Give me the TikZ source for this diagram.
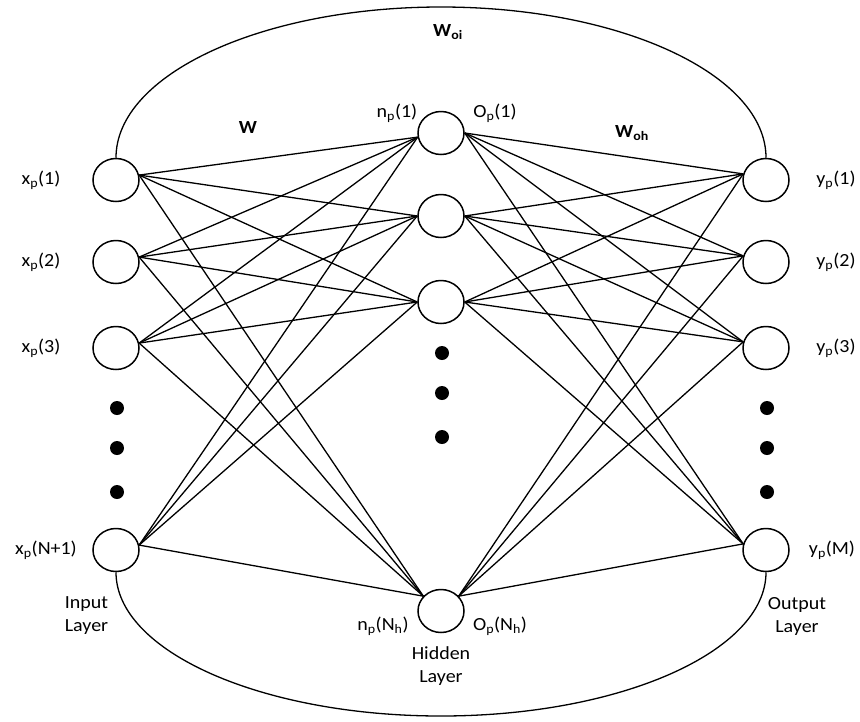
\documentclass[tikz,border=0pt]{standalone}
\usepackage{fontspec}
\setmainfont{Carlito}[FakeStretch=1.08]
\usetikzlibrary{shapes.geometric}
\begin{document}
\begin{tikzpicture}[x=1pt,y=-1pt,
  neuron/.style={ellipse, draw, line width=1.5pt, minimum width=46pt, minimum height=43pt, inner sep=0pt},
  dotn/.style={circle, fill, minimum size=14pt, inner sep=0pt},
  wire/.style={line width=1.3pt},
  lbl/.style={font=\fontsize{18.5}{23}\selectfont, inner sep=0pt, align=center},
  wlbl/.style={font=\fontsize{18.5}{23}\selectfont\bfseries, inner sep=0pt}]
\useasboundingbox[fill=white] (0,0) rectangle (860,721);
% input layer
\node[neuron] (I1) at (116,180) {};
\node[neuron] (I2) at (116,262) {};
\node[neuron] (I3) at (116,348) {};
\node[neuron] (IN) at (116,550) {};
% hidden layer
\node[neuron] (H1) at (441,133) {};
\node[neuron] (H2) at (441,216) {};
\node[neuron] (H3) at (441,302) {};
\node[neuron] (HN) at (441,611) {};
% output layer
\node[neuron] (O1) at (766,180) {};
\node[neuron] (O2) at (766,262) {};
\node[neuron] (O3) at (766,348) {};
\node[neuron] (OM) at (766,550) {};
% dots
\node[dotn] (dl1) at (117,408) {};
\node[dotn] (dl2) at (117,448) {};
\node[dotn] (dl3) at (117,492) {};
\node[dotn] (dh1) at (442,353) {};
\node[dotn] (dh2) at (442,393) {};
\node[dotn] (dh3) at (442,437) {};
\node[dotn] (dr1) at (767,408) {};
\node[dotn] (dr2) at (767,448) {};
\node[dotn] (dr3) at (767,492) {};
% anchor points
\coordinate (h1l) at (H1.190);
\coordinate (h2l) at (H2.west);
\coordinate (h3l) at (H3.west);
\coordinate (hnl) at (HN.140);
\coordinate (h1r) at (H1.east);
\coordinate (h2r) at (H2.east);
\coordinate (h3r) at (H3.east);
\coordinate (hnr) at (HN.40);
% input -> hidden
\foreach \i in {I1,I2,I3,IN}{
  \foreach \h in {h1l,h2l,h3l,hnl}{
    \draw[wire] (\i.12) -- (\h);
  }
}
% hidden -> output
\foreach \o in {O1,O2,O3,OM}{
  \foreach \h in {h1r,h2r,h3r,hnr}{
    \draw[wire] (\h) -- (\o.165);
  }
}
% arcs
\coordinate (topc) at (441,7);
\coordinate (botc) at (441,716);
\draw[wire] (I1.north) .. controls (116,74.6) and (261.5,7) .. (topc)
  .. controls (620.5,7) and (766,74.6) .. (O1.north);
\draw[wire] (IN.south) .. controls (116,651.3) and (261.5,716) .. (botc)
  .. controls (620.5,716) and (766,651.3) .. (OM.south);
% labels
\node[lbl] (lx1) at (41,180) {x\textsubscript{p}(1)};
\node[lbl] (lx2) at (41,262) {x\textsubscript{p}(2)};
\node[lbl] (lx3) at (41,348) {x\textsubscript{p}(3)};
\node[lbl] (lxn) at (46,550) {x\textsubscript{p}(N+1)};
\node[lbl] (ly1) at (836,180) {y\textsubscript{p}(1)};
\node[lbl] (ly2) at (836,262) {y\textsubscript{p}(2)};
\node[lbl] (ly3) at (836,348) {y\textsubscript{p}(3)};
\node[lbl] (lym) at (832,550) {y\textsubscript{p}(M)};
\node[lbl] (ln1) at (397,113) {n\textsubscript{p}(1)};
\node[lbl] (lo1) at (495,113) {O\textsubscript{p}(1)};
\node[lbl] (lnn) at (383,626) {n\textsubscript{p}(N\textsubscript{h})};
\node[lbl] (lon) at (500,626) {O\textsubscript{p}(N\textsubscript{h})};
\node[wlbl] (lw) at (248,127) {W};
\node[wlbl] (lwoh) at (632,133) {W\textsubscript{oh}};
\node[wlbl] (lwoi) at (448,32) {W\textsubscript{oi}};
\node[lbl] (lin) at (86.5,616) {Input\\Layer};
\node[lbl] (lhid) at (441,666) {Hidden\\Layer};
\node[lbl] (lout) at (797,616) {Output\\Layer};
\end{tikzpicture}
\end{document}
